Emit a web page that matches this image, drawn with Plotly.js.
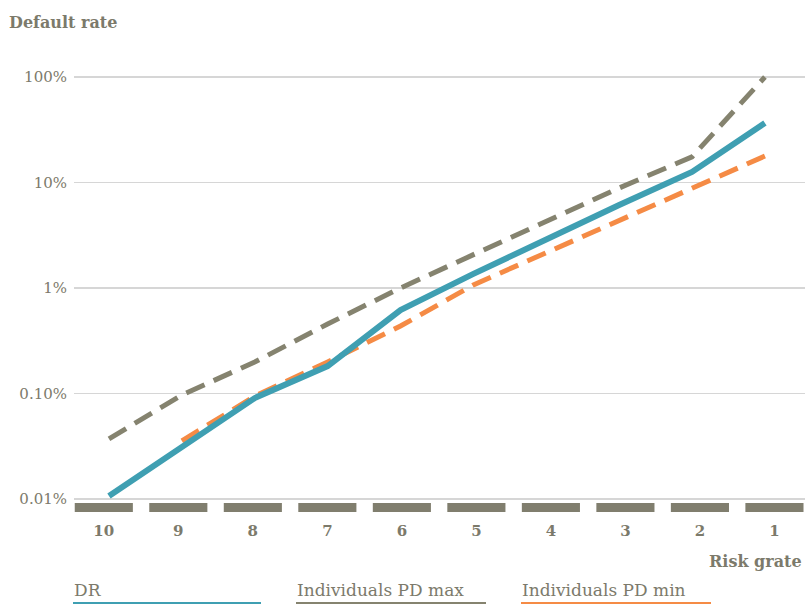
<!DOCTYPE html>
<html>
<head>
<meta charset="utf-8">
<script src="https://cdn.plot.ly/plotly-3.0.1.min.js"></script>
<style>html,body{margin:0;padding:0;background:#fff;}#chart{width:805px;height:605px;}</style>
</head>
<body>
<div id="chart"></div>
<script>
// Risk grades (left to right)
const grades = ["10", "9", "8", "7", "6", "5", "4", "3", "2", "1"];
// Default rate, in percent
const drValues    = [0.0107, 0.0311, 0.0906, 0.182, 0.618, 1.36, 2.91, 6.12, 12.6, 36.6];
const pdMaxValues = [0.0371, 0.0968, 0.199, 0.456, 1.0, 2.05, 4.22, 8.87, 17.5, 100];
const pdMinValues = [null, 0.0355, 0.0946, 0.199, 0.436, 1.07, 2.15, 4.41, 8.87, 17.8];
const seriesNames = ["DR", "Individuals PD max", "Individuals PD min"];
// Y tick values (percent) and labels
const yTickVals = [0.01, 0.1, 1, 10, 100];
const yTickText = ["0.01%", "0.10%", "1%", "10%", "100%"];
const bandValues = [1, 1, 1, 1, 1, 1, 1, 1, 1, 1];

const idx = grades.map((g, i) => i);
const textGray = "#7c7a6b";
const colors = ["#3f9fb2", "#85836f", "#f58b45"];
const font = "DejaVu Serif, Liberation Serif, serif";

const traces = [
  {type: "bar", x: idx, y: bandValues, xaxis: "x", yaxis: "y3", width: 0.78,
   marker: {color: "#807e6e"}, hoverinfo: "skip", showlegend: false},
  {type: "scatter", mode: "lines", name: seriesNames[1], x: idx, y: pdMaxValues, xaxis: "x2", yaxis: "y",
   line: {color: colors[1], width: 5, dash: "20px,10px"}},
  {type: "scatter", mode: "lines", name: seriesNames[2], x: idx, y: pdMinValues, xaxis: "x2", yaxis: "y",
   line: {color: colors[2], width: 5, dash: "20px,10px"}},
  {type: "scatter", mode: "lines", name: seriesNames[0], x: idx, y: drValues, xaxis: "x2", yaxis: "y",
   line: {color: colors[0], width: 6}}
];

const legendX = [73, 296, 521];
const legendW = [188, 190, 190];
const annotations = [
  {text: "<b>Default rate</b>", xref: "paper", yref: "paper", x: (7-74)/731, y: 1 - 23/605,
   xanchor: "left", yanchor: "middle", showarrow: false, font: {family: font, size: 16, color: textGray}},
  {text: "<b>Risk grate</b>", xref: "paper", yref: "paper", x: (804-74)/731, y: 1 - 561/605,
   xanchor: "right", yanchor: "middle", showarrow: false, font: {family: font, size: 16, color: textGray}}
];
const shapes = [];
seriesNames.forEach((n, i) => {
  annotations.push({text: n, xref: "paper", yref: "paper", x: (legendX[i]-75)/731, y: 1 - 590/605,
    xanchor: "left", yanchor: "middle", showarrow: false, font: {family: font, size: 17, color: textGray}});
  shapes.push({type: "line", xref: "paper", yref: "paper",
    x0: (legendX[i]-74)/731, x1: (legendX[i]+legendW[i]-74)/731, y0: 1 - 603/605, y1: 1 - 603/605,
    line: {color: colors[i], width: 2}});
});

const layout = {
  width: 805, height: 605,
  margin: {l: 74, r: 0, t: 0, b: 0},
  paper_bgcolor: "#fff", plot_bgcolor: "rgba(0,0,0,0)",
  showlegend: false,
  xaxis: {range: [-0.4, 9.41], anchor: "y3", tickvals: idx, ticktext: grades,
          showgrid: false, zeroline: false, showline: false,
          ticks: "outside", ticklen: 5, tickcolor: "rgba(0,0,0,0)",
          tickfont: {family: font, size: 15, color: textGray, weight: "bold"}},
  xaxis2: {range: [-0.48, 9.55], overlaying: "x", anchor: "y", visible: false},
  yaxis: {type: "log", domain: [1 - 502/605, 1 - 70/605], range: [-2.028, 2.066],
          tickvals: yTickVals, ticktext: yTickText, showgrid: true, gridcolor: "#d6d6d6", gridwidth: 1.5,
          zeroline: false, showline: false, ticks: "outside", ticklen: 3, tickcolor: "rgba(0,0,0,0)",
          tickfont: {family: font, size: 15, color: textGray}},
  yaxis3: {domain: [1 - 512/605, 1 - 503/605], range: [0, 1], visible: false},
  annotations: annotations,
  shapes: shapes
};

Plotly.newPlot("chart", traces, layout, {displayModeBar: false, staticPlot: true});
</script>
</body>
</html>
